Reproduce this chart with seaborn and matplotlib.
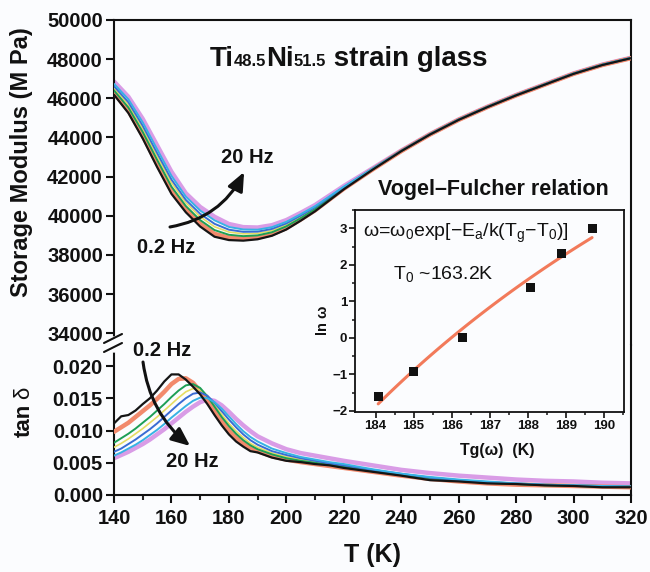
import numpy as np
import pandas as pd
import matplotlib
matplotlib.use("Agg")
import matplotlib.pyplot as plt
import seaborn as sns
from matplotlib.offsetbox import TextArea, HPacker, AnchoredOffsetbox

# ---------------- data ----------------
FREQS = ["0.2 Hz", "0.4 Hz", "1 Hz", "2 Hz", "4 Hz", "10 Hz", "20 Hz"]

# storage modulus (MPa) vs temperature (K)
T_E = [140, 145, 150, 155, 160, 165, 170, 175, 180, 185, 190, 195, 200, 205,
       210, 220, 230, 240, 250, 260, 270, 280, 290, 300, 310, 320]
E_f1 = [46180, 45250, 43950, 42490, 41120, 40180, 39450, 38930, 38760, 38730, 38800, 38980, 39300,
        39750, 40230, 41350, 42350, 43300, 44150, 44900, 45550, 46150, 46700, 47250, 47700, 48050]
E_f2 = [46280, 45380, 44100, 42660, 41290, 40330, 39600, 39080, 38880, 38830, 38890, 39060, 39370,
        39810, 40280, 41380, 42360, 43300, 44150, 44900, 45550, 46150, 46700, 47250, 47700, 48050]
E_f3 = [46400, 45530, 44280, 42860, 41490, 40500, 39780, 39270, 39030, 38960, 39000, 39160, 39460,
        39880, 40340, 41410, 42370, 43310, 44160, 44910, 45560, 46160, 46710, 47260, 47710, 48060]
E_f4 = [46520, 45680, 44450, 43050, 41690, 40670, 39950, 39440, 39170, 39080, 39100, 39250, 39540,
        39950, 40390, 41430, 42380, 43310, 44160, 44910, 45560, 46160, 46710, 47260, 47710, 48060]
E_f5 = [46620, 45800, 44600, 43210, 41850, 40810, 40100, 39590, 39290, 39180, 39190, 39330, 39610,
        40010, 40440, 41460, 42400, 43320, 44160, 44910, 45560, 46160, 46710, 47260, 47710, 48060]
E_f6 = [46740, 45950, 44770, 43400, 42040, 40980, 40270, 39770, 39430, 39300, 39290, 39420, 39690,
        40080, 40490, 41490, 42410, 43320, 44170, 44920, 45570, 46170, 46720, 47270, 47720, 48070]
E_f7 = [46860, 46080, 44950, 43600, 42250, 41150, 40450, 39950, 39580, 39420, 39400, 39520, 39780,
        40150, 40550, 41520, 42420, 43330, 44170, 44920, 45570, 46170, 46720, 47270, 47720, 48070]

# loss tangent vs temperature (K)
T_TAN = [140, 142.5, 145, 147.5, 150, 152.5, 155, 157.5, 160, 162.5, 165, 167.5, 170, 172.5,
         175, 177.5, 180, 182.5, 185, 187.5, 190, 195, 200, 205, 210, 215, 220, 230, 240,
         250, 260, 270, 280, 290, 300, 310, 320]
TAN_f1 = [0.0111, 0.0122, 0.0124, 0.0131, 0.0141, 0.0150, 0.0162, 0.0176, 0.0187, 0.0187, 0.0179,
          0.0168, 0.0156, 0.0141, 0.0124, 0.0108, 0.0094, 0.0083, 0.0075, 0.0068, 0.0066, 0.0058,
          0.0053, 0.0051, 0.0048, 0.0046, 0.0042, 0.0036, 0.0030, 0.0023, 0.0021, 0.0018, 0.0017,
          0.0015, 0.0014, 0.0012, 0.0012]
TAN_f2 = [0.0098, 0.0105, 0.0112, 0.0121, 0.0130, 0.0139, 0.0149, 0.0160, 0.0172, 0.0180, 0.0181,
          0.0174, 0.0161, 0.0146, 0.0130, 0.0114, 0.0100, 0.0089, 0.0080, 0.0073, 0.0068, 0.0060,
          0.0055, 0.0051, 0.0048, 0.0045, 0.0042, 0.0036, 0.0030, 0.0025, 0.0021, 0.0018, 0.0016,
          0.0015, 0.0014, 0.0013, 0.0012]
TAN_f3 = [0.0081, 0.0088, 0.0095, 0.0103, 0.0112, 0.0121, 0.0131, 0.0141, 0.0152, 0.0162, 0.0170,
          0.0172, 0.0166, 0.0153, 0.0137, 0.0121, 0.0107, 0.0095, 0.0085, 0.0077, 0.0071, 0.0063,
          0.0057, 0.0053, 0.0050, 0.0047, 0.0044, 0.0037, 0.0031, 0.0026, 0.0022, 0.0019, 0.0017,
          0.0015, 0.0014, 0.0013, 0.0013]
TAN_f4 = [0.0074, 0.0080, 0.0087, 0.0095, 0.0103, 0.0112, 0.0121, 0.0131, 0.0141, 0.0151, 0.0160,
          0.0165, 0.0163, 0.0154, 0.0140, 0.0125, 0.0111, 0.0099, 0.0089, 0.0080, 0.0074, 0.0065,
          0.0059, 0.0055, 0.0051, 0.0048, 0.0045, 0.0038, 0.0032, 0.0027, 0.0023, 0.0020, 0.0017,
          0.0016, 0.0015, 0.0014, 0.0013]
TAN_f5 = [0.0067, 0.0072, 0.0079, 0.0086, 0.0094, 0.0102, 0.0111, 0.0121, 0.0131, 0.0141, 0.0150,
          0.0157, 0.0159, 0.0154, 0.0143, 0.0130, 0.0117, 0.0105, 0.0094, 0.0085, 0.0078, 0.0068,
          0.0062, 0.0057, 0.0053, 0.0049, 0.0046, 0.0039, 0.0033, 0.0027, 0.0023, 0.0020, 0.0018,
          0.0016, 0.0015, 0.0014, 0.0013]
TAN_f6 = [0.0061, 0.0066, 0.0072, 0.0078, 0.0085, 0.0093, 0.0101, 0.0110, 0.0120, 0.0129, 0.0138,
          0.0146, 0.0151, 0.0150, 0.0144, 0.0134, 0.0122, 0.0110, 0.0099, 0.0090, 0.0083, 0.0072,
          0.0065, 0.0059, 0.0055, 0.0051, 0.0048, 0.0040, 0.0033, 0.0028, 0.0024, 0.0021, 0.0018,
          0.0016, 0.0015, 0.0014, 0.0013]
TAN_f7 = [0.0057, 0.0062, 0.0067, 0.0073, 0.0079, 0.0086, 0.0094, 0.0102, 0.0111, 0.0120, 0.0129,
          0.0137, 0.0144, 0.0148, 0.0146, 0.0139, 0.0129, 0.0118, 0.0108, 0.0099, 0.0091, 0.0080,
          0.0071, 0.0065, 0.0061, 0.0057, 0.0053, 0.0046, 0.0039, 0.0034, 0.0030, 0.0027, 0.0024,
          0.0022, 0.0021, 0.0019, 0.0018]

# Vogel-Fulcher inset: freezing temperature vs ln(omega)
TG = [184.07, 184.99, 186.28, 188.08, 188.90, 189.69]
LN_OMEGA = [-1.6, -0.92, 0.0, 1.38, 2.3, 3.0]
T0 = 163.2

E_SERIES = [E_f1, E_f2, E_f3, E_f4, E_f5, E_f6, E_f7]
TAN_SERIES = [TAN_f1, TAN_f2, TAN_f3, TAN_f4, TAN_f5, TAN_f6, TAN_f7]

COLORS = ["#151515", "#f28a6c", "#1d9f55", "#e6dc63", "#3a6cd3", "#37b2e4", "#d99ce6"]
WIDTHS = [1.6, 3.2, 1.4, 1.2, 1.4, 1.4, 3.2]
ZORD = [9, 3, 6, 5, 7, 8, 2]

df_E = pd.concat([pd.DataFrame({"T": T_E, "E": e, "f": f}) for f, e in zip(FREQS, E_SERIES)])
df_tan = pd.concat([pd.DataFrame({"T": T_TAN, "tan": t, "f": f}) for f, t in zip(FREQS, TAN_SERIES)])

# ---------------- style ----------------
sns.set_theme(style="ticks")
plt.rcParams["font.family"] = ["Liberation Sans", "DejaVu Sans"]
plt.rcParams["axes.linewidth"] = 1.5
BG = "#fbfcfe"

W, H = 650, 572
fig = plt.figure(figsize=(6.5, 5.72), dpi=100, facecolor=BG)


def fx(px):
    return px / W


def fy(py):
    return 1 - py / H


left, right = fx(114), fx(631)
ax_top = fig.add_axes([left, fy(345), right - left, fy(20) - fy(345)])
ax_bot = fig.add_axes([left, fy(495), right - left, fy(345) - fy(495)])
for ax in (ax_top, ax_bot):
    ax.set_facecolor(BG)
    for s in ax.spines.values():
        s.set_color("#111111")
        s.set_linewidth(1.5)

# storage modulus curves
for f, c, w, z in zip(FREQS, COLORS, WIDTHS, ZORD):
    sns.lineplot(data=df_E[df_E.f == f], x="T", y="E", ax=ax_top, color=c, lw=w,
                 legend=False, zorder=z, sort=True)
# loss tangent curves
for f, c, w, z in zip(FREQS, COLORS, WIDTHS, ZORD):
    sns.lineplot(data=df_tan[df_tan.f == f], x="T", y="tan", ax=ax_bot, color=c, lw=w,
                 legend=False, zorder=z, sort=True)

ax_top.set_xlim(140, 320)
ax_bot.set_xlim(140, 320)
ax_top.set_ylim(33400, 50000)
ax_bot.set_ylim(0, 0.02326)

ax_top.spines["bottom"].set_visible(False)
ax_bot.spines["top"].set_visible(False)
ax_top.tick_params(axis="x", which="both", bottom=False, top=False, labelbottom=False)
ax_top.set_yticks(np.arange(34000, 50001, 2000))
ax_bot.set_yticks(np.arange(0, 0.0201, 0.005))
ax_bot.set_yticklabels([f"{v:.3f}" for v in np.arange(0, 0.0201, 0.005)])
ax_bot.set_xticks(np.arange(140, 321, 20))
ax_bot.set_xticks(np.arange(150, 321, 20), minor=True)

for ax in (ax_top, ax_bot):
    ax.tick_params(axis="both", which="major", direction="out", length=6, width=1.5,
                   labelsize=14.5, pad=2, colors="#111111")
    ax.tick_params(axis="x", which="minor", direction="out", length=3.5, width=1.5)
    for lab in ax.get_yticklabels() + ax.get_xticklabels():
        lab.set_fontweight("bold")
    ax.set_xlabel("")
    ax.set_ylabel("")
ax_bot.tick_params(axis="x", which="major", pad=4)

# axis break on the left spine
fig.add_artist(plt.Line2D([fx(114), fx(114)], [fy(339), fy(350)], color=BG, lw=4,
                          transform=fig.transFigure))
for y0 in (343, 352):
    fig.add_artist(plt.Line2D([fx(104), fx(122)], [fy(y0), fy(y0 - 9)], color="#111111",
                              lw=1.5, transform=fig.transFigure))

# axis labels
fig.text(fx(22), fy(162), "Storage Modulus (M Pa)", rotation=90, ha="center", va="center",
         fontsize=17, fontweight="bold", color="#111111")
fig.text(fx(24), fy(437), "tan", rotation=90, ha="center", va="bottom",
         fontsize=16, fontweight="bold", color="#111111")
fig.text(fx(24), fy(387), "δ", rotation=90, ha="center", va="top",
         fontsize=16, color="#111111")
fig.text(fx(372), fy(555), "T (K)", ha="center", va="center", fontsize=18,
         fontweight="bold", color="#111111")

# title with subscript-sized numbers
big = dict(fontsize=20, fontweight="bold", color="#111111")
small = dict(fontsize=12, fontweight="bold", color="#111111")
title = HPacker(children=[TextArea("Ti", textprops=big), TextArea("48.5", textprops=small),
                          TextArea("Ni", textprops=big), TextArea("51.5", textprops=small),
                          TextArea(" strain glass", textprops=big)],
                align="baseline", pad=0, sep=0)
fig.add_artist(AnchoredOffsetbox(loc="lower left", child=title, pad=0, borderpad=0,
                                 frameon=False, bbox_to_anchor=(fx(210), fy(72)),
                                 bbox_transform=fig.transFigure))

# frequency arrows and labels
arrow = dict(arrowstyle="-|>,head_length=0.7,head_width=0.3", lw=2.2, color="#111111",
             shrinkA=0, shrinkB=0, mutation_scale=16)
ax_top.annotate("", xy=(185.3, 42237), xytext=(159.5, 39428),
                arrowprops=dict(arrow, connectionstyle="arc3,rad=0.25"), zorder=12)
ax_top.text(186.3, 42952, "20 Hz", ha="center", va="center", fontsize=14.5,
            fontweight="bold", color="#111111", zorder=12)
ax_top.text(158.1, 38355, "0.2 Hz", ha="center", va="center", fontsize=14.5,
            fontweight="bold", color="#111111", zorder=12)
ax_bot.annotate("", xy=(166.5, 0.0076), xytext=(150.1, 0.02062),
                arrowprops=dict(arrow, connectionstyle="arc3,rad=0.2"), zorder=12)
ax_bot.text(156.7, 0.02248, "0.2 Hz", ha="center", va="center", fontsize=14.5,
            fontweight="bold", color="#111111", zorder=12, clip_on=False)
ax_bot.text(167.2, 0.00512, "20 Hz", ha="center", va="center", fontsize=14.5,
            fontweight="bold", color="#111111", zorder=12)

# ---------------- Vogel-Fulcher inset ----------------
ax_in = fig.add_axes([fx(355), fy(412), fx(624) - fx(355), fy(210) - fy(412)])
ax_in.set_facecolor(BG)
for s in ax_in.spines.values():
    s.set_color("#111111")
    s.set_linewidth(1.3)

# least-squares fit of ln(omega) = A - B / (Tg - T0) with fixed T0
inv = 1.0 / (np.array(TG) - T0)
slope, icpt = np.polyfit(inv, np.array(LN_OMEGA), 1)
tg_fit = np.linspace(min(TG), max(TG), 60)
fit_df = pd.DataFrame({"Tg": tg_fit, "ln": icpt + slope / (tg_fit - T0)})
sns.lineplot(data=fit_df, x="Tg", y="ln", ax=ax_in, color="#f27a5a", lw=2.2, legend=False)
sns.scatterplot(x=TG, y=LN_OMEGA, ax=ax_in, marker="s", s=42, color="#111111",
                edgecolor="none", zorder=5, legend=False)

ax_in.set_xlim(183.46, 190.53)
ax_in.set_ylim(-2.03, 3.5)
ax_in.set_xticks(np.arange(184, 191, 1))
ax_in.set_xticks(np.arange(184.5, 190.6, 1), minor=True)
ax_in.set_yticks(np.arange(-2, 4, 1))
ax_in.set_yticks(np.arange(-1.5, 3.6, 1), minor=True)
ax_in.tick_params(axis="both", which="major", direction="out", length=4, width=1.2,
                  labelsize=9.5, pad=1.5, colors="#111111")
ax_in.tick_params(axis="both", which="minor", direction="out", length=2.5, width=1.2)
for lab in ax_in.get_xticklabels() + ax_in.get_yticklabels():
    lab.set_fontweight("bold")
ax_in.set_xlabel("")
ax_in.set_ylabel("")

eq = (r"ω=ω$_\mathregular{0}$exp[−E$_\mathregular{a}$/k(T$_\mathregular{g}$"
      r"−T$_\mathregular{0}$)]")
ax_in.text(0.03, 0.885, eq, transform=ax_in.transAxes, ha="left", va="center",
           fontsize=14, color="#111111")
ax_in.text(0.14, 0.68, r"T$_\mathregular{0}$ ~163.2K", transform=ax_in.transAxes,
           ha="left", va="center", fontsize=14, color="#111111")

fig.text(fx(493.5), fy(189), "Vogel–Fulcher relation", ha="center", va="center",
         fontsize=15.5, fontweight="bold", color="#111111")
fig.text(fx(497), fy(450), "Tg(ω)  (K)", ha="center", va="center", fontsize=11.5,
         fontweight="bold", color="#111111")
fig.text(fx(323), fy(320), "ln ω", rotation=90, ha="center", va="center", fontsize=10.5,
         fontweight="bold", color="#111111")

fig.savefig("out.png", dpi=100, facecolor=BG)
